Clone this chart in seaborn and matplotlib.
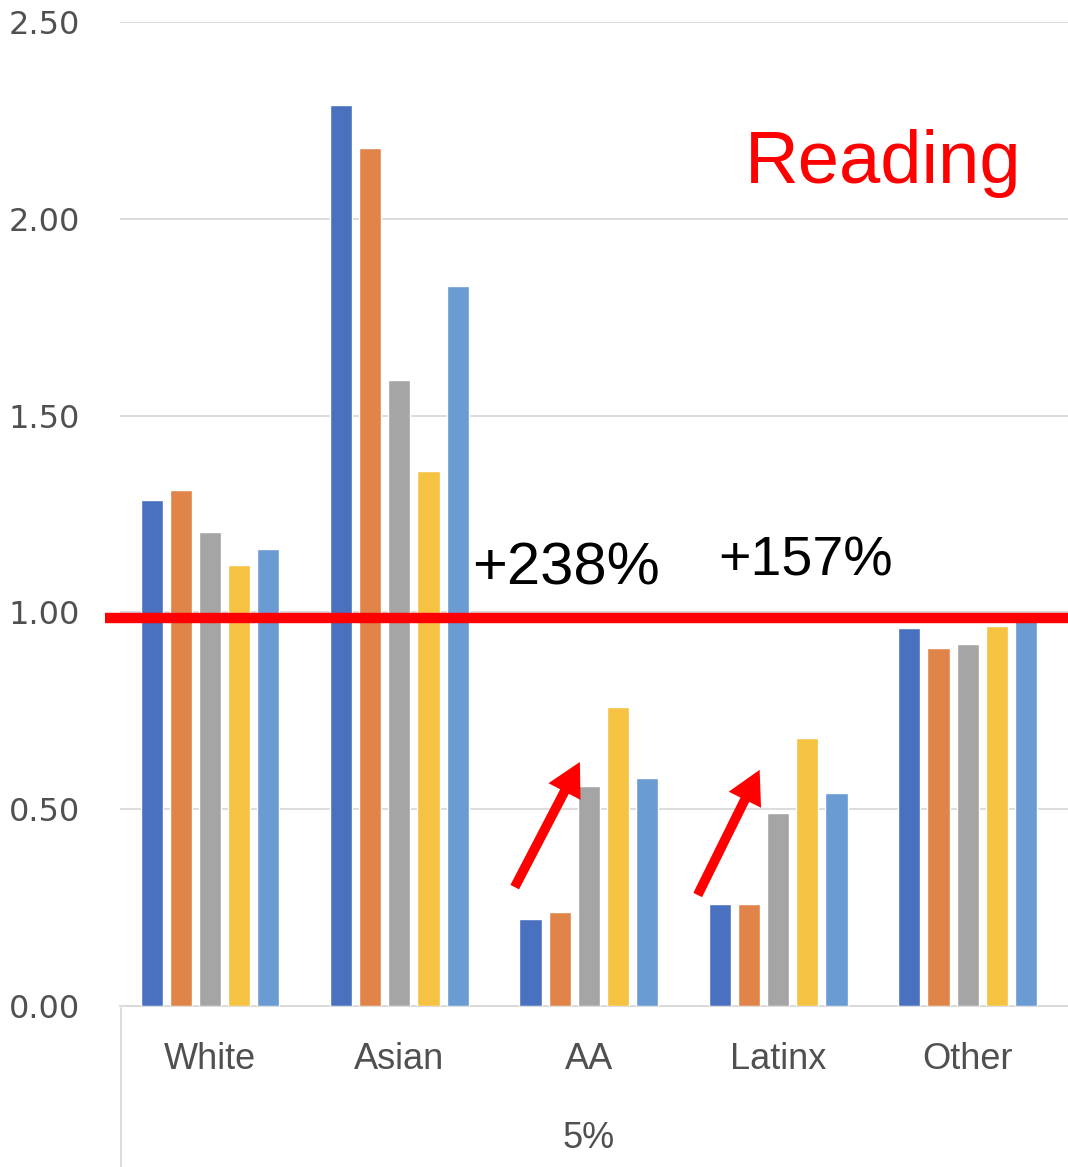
import matplotlib
matplotlib.use("Agg")
import matplotlib.pyplot as plt
import seaborn as sns
import pandas as pd
from matplotlib.lines import Line2D

categories = ["White", "Asian", "AA", "Latinx", "Other"]
series = ["S1", "S2", "S3", "S4", "S5"]
values_s1 = [1.285, 2.29, 0.22, 0.26, 0.96]
values_s2 = [1.31, 2.18, 0.24, 0.26, 0.91]
values_s3 = [1.205, 1.59, 0.56, 0.49, 0.92]
values_s4 = [1.12, 1.36, 0.76, 0.68, 0.965]
values_s5 = [1.16, 1.83, 0.58, 0.54, 0.99]
y_ticks = [0.0, 0.5, 1.0, 1.5, 2.0, 2.5]
group_label = "5%"
colors = ["#4A70C0", "#E0844A", "#A5A5A5", "#F5C242", "#6A9BD3"]

rows = []
for s, vals in zip(series, [values_s1, values_s2, values_s3, values_s4, values_s5]):
    for c, v in zip(categories, vals):
        rows.append({"group": c, "series": s, "value": v})
df = pd.DataFrame(rows)

sns.set_style("white")
plt.rcParams["font.family"] = ["DejaVu Sans"]

fig = plt.figure(figsize=(10.68, 11.67), dpi=100)
ax = fig.add_axes([120 / 1068, (1167 - 1006) / 1167, 948 / 1068, 984 / 1167])

sns.barplot(data=df, x="group", y="value", hue="series", order=categories,
            hue_order=series, palette=colors, width=0.77, gap=0.24,
            saturation=1, legend=False, ax=ax, zorder=3)

ax.set_xlim(-0.475, 4.53)
ax.set_ylim(0, 2.5)
ax.set_yticks(y_ticks)
ax.set_yticklabels([f"{t:.2f}" for t in y_ticks], fontsize=23, color="#505050")
ax.yaxis.grid(True, color="#D9D9D9", linewidth=1.3, zorder=0)
ax.set_axisbelow(True)
ax.tick_params(axis="y", length=0, pad=29)
ax.set_xticks(range(len(categories)))
ax.set_xticklabels(categories, fontsize=26, color="#505050", family="Liberation Sans")
ax.tick_params(axis="x", length=0, pad=26)
ax.set_xlabel("")
ax.set_ylabel("")
for sp in ["left", "right", "top"]:
    ax.spines[sp].set_visible(False)
ax.spines["bottom"].set_color("#D9D9D9")
ax.spines["bottom"].set_linewidth(1.3)

# group label (second level of category axis)
ax.text(2.0, -0.135, group_label, transform=ax.get_xaxis_transform(),
        ha="center", va="center", fontsize=26, color="#505050", family="Liberation Sans")

# category box lines (figure coords)
fig.add_artist(Line2D([121 / 1068, 121 / 1068], [0, (1167 - 1008) / 1167],
                      color="#D9D9D9", lw=1.3, transform=fig.transFigure))

# red reference line
ax.axhline(0.985, xmin=-0.016, xmax=1.0, color="#FF0000", lw=7.5, clip_on=False,
           zorder=5, solid_capstyle="butt")

# annotations
ax.text(1.383, 1.07, "+238%", fontsize=43, family="Liberation Sans", color="black",
        ha="left", va="baseline", zorder=6)
ax.text(2.681, 1.095, "+157%", fontsize=40, family="Liberation Sans", color="black",
        ha="left", va="baseline", zorder=6)
ax.text(2.823, 2.09, "Reading", fontsize=53.5, family="Liberation Sans", color="#FF0000",
        ha="left", va="baseline", zorder=6)

arrow_kw = dict(width=7, headwidth=26, headlength=24, color="#FF0000", lw=0,
                shrink=0)
ax.annotate("", xy=(1.953, 0.62), xytext=(1.609, 0.302), arrowprops=arrow_kw, zorder=6)
ax.annotate("", xy=(2.902, 0.60), xytext=(2.575, 0.282), arrowprops=arrow_kw, zorder=6)

fig.savefig("out.png", dpi=100)
